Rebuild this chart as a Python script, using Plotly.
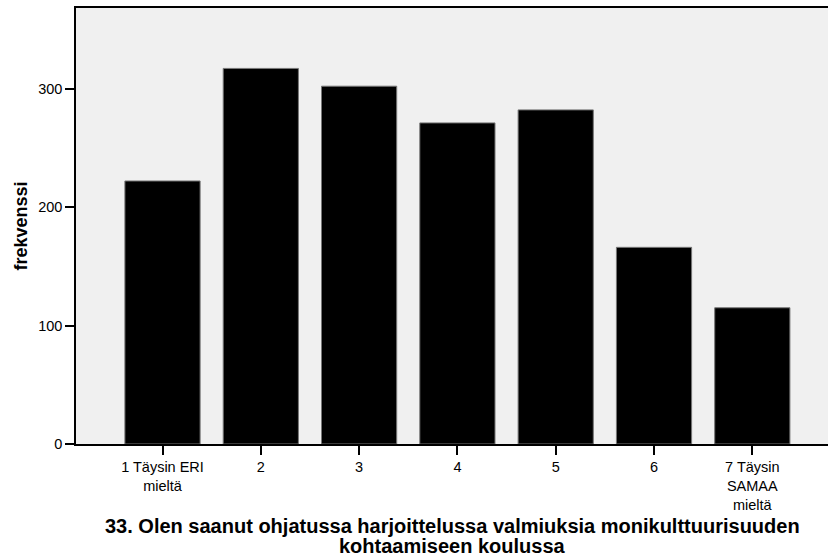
import plotly.graph_objs as go

categories = [1, 2, 3, 4, 5, 6, 7]
tick_labels = ['1 Täysin ERI<br>mieltä', '2', '3', '4', '5', '6', '7 Täysin<br>SAMAA<br>mieltä']
frequencies = [222, 317, 302, 271, 282, 166, 115]
y_ticks = [0, 100, 200, 300]
x_title_lines = ['33. Olen saanut ohjatussa harjoittelussa valmiuksia monikulttuurisuuden',
                 'kohtaamiseen koulussa']

fig = go.Figure()
fig.add_trace(go.Bar(
    x=categories, y=frequencies, width=0.765,
    marker=dict(color='black', line=dict(color='#777777', width=1)),
    showlegend=False
))

# x title as two annotations to keep the tight line spacing (centred on 452 px)
for i, line in enumerate(x_title_lines):
    fig.add_annotation(
        text=f'<b>{line}</b>', xref='paper', yref='paper', x=0.5, y=0,
        xshift=-3, yshift=-82 - 20 * i, showarrow=False, font=dict(size=20),
        xanchor='center', yanchor='middle'
    )

# plot area runs a few px past the window's right edge, like the cropped original
fig.update_layout(
    width=834, height=557,
    margin=dict(l=76, r=0, t=8, b=113, autoexpand=False),
    paper_bgcolor='white',
    plot_bgcolor='#f0f0f0',
    font=dict(family='Liberation Sans, Arial, sans-serif', size=14.5, color='black'),
    xaxis=dict(
        range=[0.12, 7.831], tickvals=categories, ticktext=tick_labels,
        showline=True, linecolor='black', linewidth=1.5, mirror=True,
        ticks='outside', ticklen=9, tickwidth=1.5, tickcolor='black',
        showgrid=False, zeroline=False, automargin=False,
    ),
    yaxis=dict(
        range=[0, 368], tickvals=y_ticks,
        showline=True, linecolor='black', linewidth=1.5,
        ticks='outside', ticklen=9, tickwidth=1.5, tickcolor='black',
        showgrid=False, zeroline=False, automargin=False,
        title=dict(text='<b>frekvenssi</b>', font=dict(size=18), standoff=6),
    ),
)

# drop the browser's default body margin so the figure sits at the page corner
fig.write_html("out.html", config={'displayModeBar': False},
               post_script="document.body.style.margin='0';document.body.style.overflow='hidden';")
